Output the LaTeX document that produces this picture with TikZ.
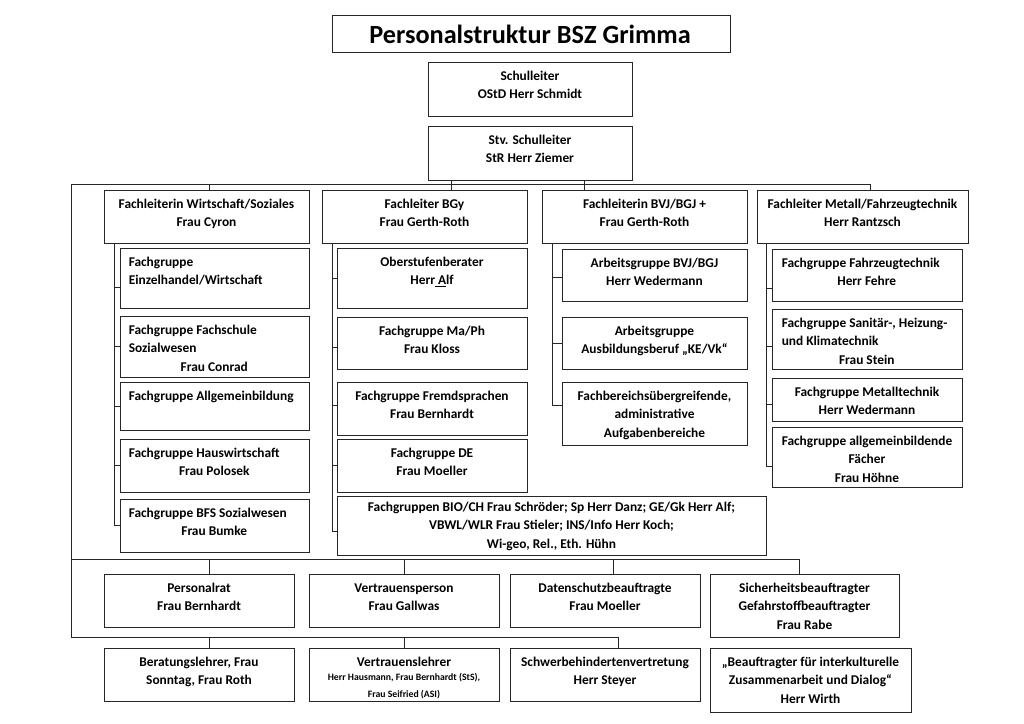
\documentclass[tikz,border=0pt]{standalone}
\usepackage{fontspec}
\setmainfont{Carlito}
\usetikzlibrary{fit,calc}
\newdimen\pxu \pxu=0.8223pt
\newcommand\fst{\rule{0pt}{15pt}}
\newcommand\cen[2]{\makebox[#1\pxu]{#2}}
\begin{document}
\begin{tikzpicture}[x=0.8223pt,y=-0.8223pt,
  box/.style={draw=black!85, line width=0.8pt, inner sep=0pt},
  ln/.style={draw=black!85, line width=0.8pt},
  txt/.style={inner sep=0pt, anchor=north, align=center, font=\fontsize{11}{15.6}\selectfont\bfseries},
  ltxt/.style={inner sep=0pt, anchor=north west, align=left, font=\fontsize{11}{15.6}\selectfont\bfseries},
  stxt/.style={inner sep=0pt, anchor=north, align=center, font=\fontsize{8}{13.2}\selectfont\bfseries},
  ttxt/.style={inner sep=0pt, anchor=base, font=\fontsize{21.6}{25}\selectfont\bfseries}
]
\useasboundingbox[fill=white] (0,0) rectangle (1024,724);

% ---------- boxes ----------
\node[box, fit={(332,15) (730,52)}] (T) {};
\node[box, fit={(428,62) (632,116)}] (SL) {};
\node[box, fit={(428,126) (632,180)}] (Stv) {};
\node[box, fit={(104,190) (309,243)}] (W) {};
\node[box, fit={(322,190) (527,243)}] (BGy) {};
\node[box, fit={(542,190) (747,243)}] (BVJ) {};
\node[box, fit={(757,190) (968,243)}] (Met) {};
\node[box, fit={(120,248) (309,308)}] (c11) {};
\node[box, fit={(120,316) (309,377)}] (c12) {};
\node[box, fit={(120,382) (309,430)}] (c13) {};
\node[box, fit={(120,439) (309,492)}] (c14) {};
\node[box, fit={(120,499) (309,552)}] (c15) {};
\node[box, fit={(337,248) (527,308)}] (c21) {};
\node[box, fit={(337,317) (527,369)}] (c22) {};
\node[box, fit={(337,382) (527,435)}] (c23) {};
\node[box, fit={(337,439) (527,492)}] (c24) {};
\node[box, fit={(337,496) (766,555)}] (BIO) {};
\node[box, fit={(562,249) (747,301)}] (c31) {};
\node[box, fit={(562,317) (747,369)}] (c32) {};
\node[box, fit={(562,382) (747,445)}] (c33) {};
\node[box, fit={(772,249) (962,301)}] (c41) {};
\node[box, fit={(772,309) (962,369)}] (c42) {};
\node[box, fit={(772,378) (962,421)}] (c43) {};
\node[box, fit={(772,427) (962,487)}] (c44) {};
\node[box, fit={(104,574) (294,627)}] (PR) {};
\node[box, fit={(309,574) (499,627)}] (VP) {};
\node[box, fit={(510,574) (700,627)}] (DS) {};
\node[box, fit={(710,574) (899,637)}] (SI) {};
\node[box, fit={(104,648) (294,701)}] (BL) {};
\node[box, fit={(309,648) (499,701)}] (VL) {};
\node[box, fit={(510,648) (700,701)}] (SB) {};
\node[box, fit={(710,648) (911,712)}] (BA) {};

% ---------- texts ----------
\node[ttxt] (Tt) at (530,43) {Personalstruktur BSZ Grimma};
\node[txt] (SLt) at (SL.north) {\fst Schulleiter\\OStD Herr Schmidt};
\node[txt] (Stvt) at (Stv.north) {\fst Stv. Schulleiter\\StR Herr Ziemer};
\node[txt] (Wt) at (W.north) {\fst Fachleiterin Wirtschaft/Soziales\\Frau Cyron};
\node[txt] (BGyt) at (BGy.north) {\fst Fachleiter BGy\\Frau Gerth-Roth};
\node[txt] (BVJt) at (BVJ.north) {\fst Fachleiterin BVJ/BGJ +\\Frau Gerth-Roth};
\node[txt] (Mett) at (Met.north) {\fst Fachleiter Metall/Fahrzeugtechnik\\Herr Rantzsch};

\node[ltxt] (c11t) at ($(c11.north west)+(9,0)$) {\fst Fachgruppe\\Einzelhandel/Wirtschaft};
\node[ltxt] (c12t) at ($(c12.north west)+(9,0)$) {\fst Fachgruppe Fachschule\\Sozialwesen\\\cen{171}{Frau Conrad}};
\node[ltxt] (c13t) at ($(c13.north west)+(9,0)$) {\fst Fachgruppe Allgemeinbildung};
\node[ltxt] (c14t) at ($(c14.north west)+(9,0)$) {\fst Fachgruppe Hauswirtschaft\\\cen{171}{Frau Polosek}};
\node[ltxt] (c15t) at ($(c15.north west)+(9,0)$) {\fst Fachgruppe BFS Sozialwesen\\\cen{171}{Frau Bumke}};

\node[txt] (c21t) at (c21.north) {\fst Oberstufenberater\\Herr\underline{\ A}lf};
\node[txt] (c22t) at (c22.north) {\fst Fachgruppe Ma/Ph\\Frau Kloss};
\node[txt] (c23t) at (c23.north) {\fst Fachgruppe Fremdsprachen\\Frau Bernhardt};
\node[txt] (c24t) at (c24.north) {\fst Fachgruppe DE\\Frau Moeller};
\node[txt] (BIOt) at ($(BIO.north)+(0,-3)$) {\fst Fachgruppen BIO/CH Frau Schröder; Sp Herr Danz; GE/Gk Herr Alf;\\VBWL/WLR Frau Stieler; INS/Info Herr Koch;\\Wi-geo, Rel., Eth. Hühn};

\node[txt] (c31t) at (c31.north) {\fst Arbeitsgruppe BVJ/BGJ\\Herr Wedermann};
\node[txt] (c32t) at (c32.north) {\fst Arbeitsgruppe\\Ausbildungsberuf „KE/Vk“};
\node[txt] (c33t) at (c33.north) {\fst Fachbereichsübergreifende,\\administrative\\Aufgabenbereiche};

\node[ltxt] (c41t) at ($(c41.north west)+(10,0)$) {\fst Fachgruppe Fahrzeugtechnik\\\cen{170}{Herr Fehre}};
\node[ltxt] (c42t) at ($(c42.north west)+(10,0)$) {\fst Fachgruppe Sanitär-, Heizung-\\und Klimatechnik\\\cen{170}{Frau Stein}};
\node[txt] (c43t) at (c43.north) {\fst Fachgruppe Metalltechnik\\Herr Wedermann};
\node[txt] (c44t) at (c44.north) {\fst Fachgruppe allgemeinbildende\\Fächer\\Frau Höhne};

\node[txt] (PRt) at (PR.north) {\fst Personalrat\\Frau Bernhardt};
\node[txt] (VPt) at (VP.north) {\fst Vertrauensperson\\Frau Gallwas};
\node[txt] (DSt) at (DS.north) {\fst Datenschutzbeauftragte\\Frau Moeller};
\node[txt] (SIt) at (SI.north) {\fst Sicherheitsbeauftragter\\Gefahrstoffbeauftragter\\Frau Rabe};
\node[txt] (BLt) at (BL.north) {\fst Beratungslehrer, Frau\\Sonntag, Frau Roth};
\node[txt] (VLt) at (VL.north) {\fst Vertrauenslehrer};
\node[stxt] (VLs) at ($(VL.north)+(0,26)$) {Herr Hausmann, Frau Bernhardt (StS),\\Frau Seifried (ASI)};
\node[txt] (SBt) at (SB.north) {\fst Schwerbehindertenvertretung\\Herr Steyer};
\node[txt] (BAt) at (BA.north) {\fst „Beauftragter für interkulturelle\\Zusammenarbeit und Dialog“\\Herr Wirth};

% ---------- connectors ----------
\coordinate (busL) at (71,184);
\coordinate (busR) at (870,184);
\coordinate (tW) at (209,184);
\coordinate (t1) at (451,184);
\coordinate (t2) at (584,184);
\coordinate (midL) at (71,559);
\coordinate (midR) at (799,559);
\coordinate (m2) at (404,559);
\coordinate (m3) at (613,559);
\coordinate (lowL) at (71,637);
\coordinate (lowR) at (618,637);

\draw[ln] (Stv.south -| t1) -- (BGy.north -| t1);
\draw[ln] (Stv.south -| t2) -- (BVJ.north -| t2);
\draw[ln] (busR) -- (busL) -- (lowL);
\draw[ln] (busR) -- (Met.north -| busR);
\draw[ln] (tW) -- (W.north -| tW);

\draw[ln] (midL) -- (midR) -- (SI.north -| midR);
\draw[ln] (tW |- midL) -- (PR.north -| tW);
\draw[ln] (m2) -- (VP.north -| m2);
\draw[ln] (m3) -- (DS.north -| m3);

\draw[ln] (lowL) -- (lowR) -- (SB.north -| lowR);
\draw[ln] (tW |- lowL) -- (BL.north -| tW);
\draw[ln] (m2 |- lowL) -- (VL.north -| m2);

% column 1
\coordinate (k1) at (114,0);
\draw[ln] (W.south -| k1) |- (c15.west);
\draw[ln] ($(c11.west)+(0,9)$) -- +(-6,0);
\draw[ln] (c12.west) -- +(-6,0);
\draw[ln] (c13.west) -- +(-6,0);
\draw[ln] (c14.west) -- +(-6,0);
% column 2
\coordinate (k2) at (332,0);
\draw[ln] (BGy.south -| k2) |- ($(BIO.west)+(0,6)$);
\draw[ln] (c21.west) -- +(-5,0);
\draw[ln] ($(c22.west)+(0,4)$) -- +(-5,0);
\draw[ln] ($(c23.west)+(0,-3)$) -- +(-5,0);
\draw[ln] (c24.west) -- +(-5,0);
% column 3
\coordinate (k3) at (552,0);
\draw[ln] (BVJ.south -| k3) |- ($(c33.west)+(0,-8)$);
\draw[ln] ($(c31.west)+(0,2)$) -- +(-10,0);
\draw[ln] (c32.west) -- +(-10,0);
% column 4
\coordinate (k4) at (766,0);
\draw[ln] (Met.south -| k4) |- ($(c44.west)+(0,9)$);
\draw[ln] ($(c41.west)+(0,13)$) -- +(-6,0);
\draw[ln] ($(c42.west)+(0,7)$) -- +(-6,0);
\draw[ln] ($(c43.west)+(0,5)$) -- +(-6,0);
\end{tikzpicture}
\end{document}
